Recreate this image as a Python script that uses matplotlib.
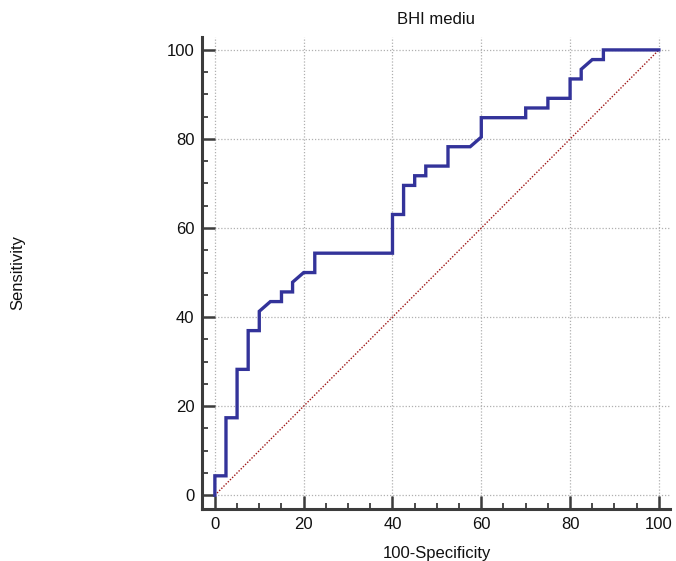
import matplotlib
matplotlib.use("Agg")
import matplotlib.pyplot as plt
from matplotlib.ticker import MultipleLocator

# ROC operating points (100-Specificity, Sensitivity), in percent
fpr = [0, 0, 2.5, 2.5, 5, 5, 7.5, 7.5, 10, 10, 12.5, 15, 15, 17.5, 17.5, 20,
       22.5, 22.5, 40, 40, 42.5, 42.5, 45, 45, 47.5, 47.5, 52.5, 52.5, 57.5,
       60, 60, 70, 70, 75, 75, 80, 80, 82.5, 82.5, 85, 87.5, 87.5, 100]
tpr = [0, 4.35, 4.35, 17.39, 17.39, 28.26, 28.26, 36.96, 36.96, 41.30, 43.48,
       43.48, 45.65, 45.65, 47.83, 50.0, 50.0, 54.35, 54.35, 63.04, 63.04,
       69.57, 69.57, 71.74, 71.74, 73.91, 73.91, 78.26, 78.26, 80.43, 84.78,
       84.78, 86.96, 86.96, 89.13, 89.13, 93.48, 93.48, 95.65, 97.83, 97.83,
       100, 100]
chance_x = [0, 100]
chance_y = [0, 100]

title = "BHI mediu"
xlabel = "100-Specificity"
ylabel = "Sensitivity"
major_ticks = [0, 20, 40, 60, 80, 100]

plt.rcParams["font.family"] = ["Liberation Sans", "DejaVu Sans"]
axis_color = "#3c3c3c"
text_color = "#111111"
fs = 12

fig = plt.figure(figsize=(6.76, 5.61), dpi=100)
ax = fig.add_axes([202 / 676, 1 - 509 / 561, 468 / 676, 472 / 561])

ax.plot(chance_x, chance_y, color="#a01818", lw=1.0, ls=(0, (1, 1.2)), zorder=2)
ax.plot(fpr, tpr, color="#33339a", lw=2.4, solid_joinstyle="miter", zorder=3)

ax.set_xlim(-2.9, 102.5)
ax.set_ylim(-3.1, 102.9)
ax.set_xticks(major_ticks)
ax.set_yticks(major_ticks)
ax.xaxis.set_minor_locator(MultipleLocator(5))
ax.yaxis.set_minor_locator(MultipleLocator(5))

ax.grid(True, which="major", color="#b0b0b0", lw=0.9, ls=(0, (1, 1.5)))
ax.set_axisbelow(True)

for side in ("top", "right"):
    ax.spines[side].set_visible(False)
for side in ("left", "bottom"):
    ax.spines[side].set_color(axis_color)
    ax.spines[side].set_linewidth(2.2)

ax.tick_params(which="major", direction="in", length=9.5, width=1.8,
               color=axis_color, labelsize=fs, labelcolor=text_color, pad=5.5)
ax.tick_params(which="minor", direction="in", length=4.5, width=1.3,
               color=axis_color)

ax.set_title(title, fontsize=fs, color=text_color, pad=9)
ax.set_xlabel(xlabel, fontsize=fs, color=text_color)
ax.xaxis.set_label_coords(0.502, -0.078)
ax.set_ylabel(ylabel, fontsize=fs, color=text_color, va="center")
ax.yaxis.set_label_coords(-0.393, 0.5)

fig.savefig("out.png", dpi=100)
